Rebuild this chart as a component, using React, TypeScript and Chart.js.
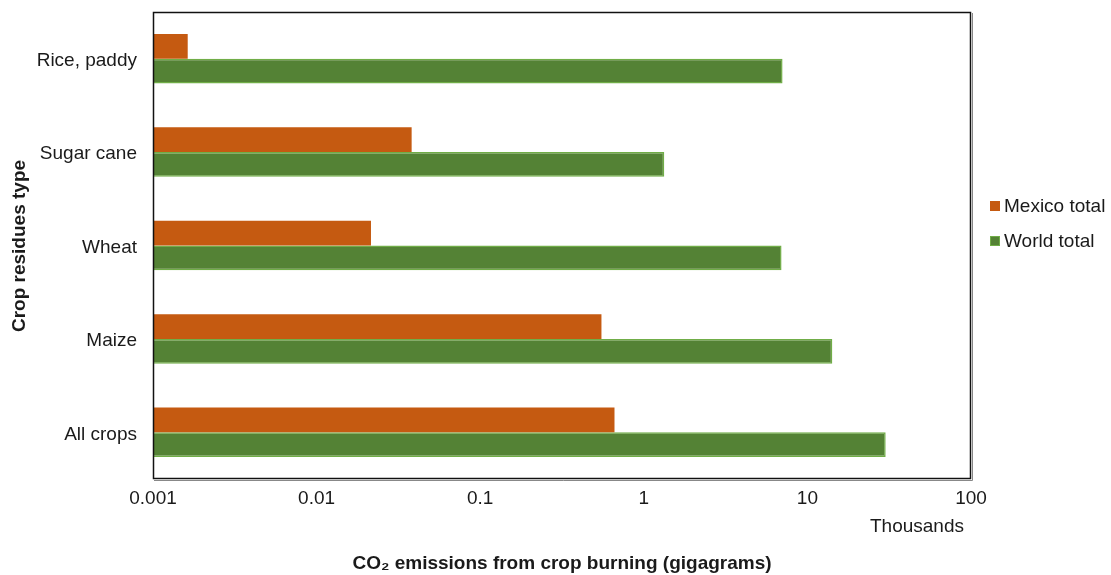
import React, { useEffect, useRef } from "react";
import { Chart, registerables } from "chart.js";

Chart.register(...registerables);

const categories = ["Rice, paddy", "Sugar cane", "Wheat", "Maize", "All crops"];
const mexicoTotal = [0.00163, 0.0381, 0.0215, 0.551, 0.662];
const worldTotal = [7.05, 1.334, 6.95, 14.2, 30.1];
const xTicks = [0.001, 0.01, 0.1, 1, 10, 100];
const xTickLabels = ["0.001", "0.01", "0.1", "1", "10", "100"];
const seriesNames = ["Mexico total", "World total"];

const FONT = "'Liberation Sans', Arial, sans-serif";
const TEXT = "#1a1a1a";
const FS = 19;

const decorPlugin = {
  id: "decor",
  afterDraw(chart: any) {
    const { ctx, chartArea } = chart;
    const { left, right, top, bottom } = chartArea;
    ctx.save();
    // plot frame
    ctx.strokeStyle = "#111";
    ctx.lineWidth = 1.5;
    ctx.strokeRect(left + 0.5, top + 0.5, right - left - 1, bottom - top - 1);
    ctx.strokeStyle = "#888";
    ctx.lineWidth = 1;
    ctx.beginPath();
    ctx.moveTo(right + 1.5, top + 1);
    ctx.lineTo(right + 1.5, bottom + 1.5);
    ctx.lineTo(left + 1, bottom + 1.5);
    ctx.stroke();

    // legend
    const colors = ["#C55A11", "#548235"];
    const borders = ["#C55A11", "#70AD47"];
    const ys = [206, 241];
    ctx.font = `${FS}px ${FONT}`;
    ctx.textBaseline = "middle";
    ctx.textAlign = "left";
    for (let i = 0; i < 2; i++) {
      ctx.fillStyle = colors[i];
      ctx.fillRect(990, ys[i] - 5, 10, 10);
      ctx.strokeStyle = borders[i];
      ctx.lineWidth = 1;
      ctx.strokeRect(990.5, ys[i] - 4.5, 9, 9);
      ctx.fillStyle = TEXT;
      ctx.fillText(seriesNames[i], 1004, ys[i] + 1);
    }

    // "Thousands"
    ctx.textAlign = "center";
    ctx.fillText("Thousands", 917, 527);

    // x title
    ctx.font = `bold ${FS}px ${FONT}`;
    ctx.fillText("CO\u2082 emissions from crop burning (gigagrams)", 562, 564);

    // y title
    ctx.translate(20, 246);
    ctx.rotate(-Math.PI / 2);
    ctx.fillText("Crop residues type", 0, 0);
    ctx.restore();
  },
};

export default function App() {
  const ref = useRef<HTMLCanvasElement>(null);
  useEffect(() => {
    document.body.style.margin = "0";
    const chart = new Chart(ref.current as HTMLCanvasElement, {
      type: "bar",
      data: {
        labels: categories,
        datasets: [
          {
            label: seriesNames[0],
            data: mexicoTotal,
            backgroundColor: "#C55A11",
            borderColor: "#C55A11",
            borderWidth: 0,
            categoryPercentage: 0.53,
            barPercentage: 1.0,
          },
          {
            label: seriesNames[1],
            data: worldTotal,
            backgroundColor: "#548235",
            borderColor: "#70AD47",
            borderWidth: 1.5,
            categoryPercentage: 0.53,
            barPercentage: 1.0,
          },
        ],
      },
      options: {
        indexAxis: "y",
        animation: false,
        responsive: false,
        layout: { padding: { top: 12, right: 140, left: 0, bottom: 0 } },
        plugins: { legend: { display: false }, tooltip: { enabled: false } },
        scales: {
          x: {
            type: "logarithmic",
            min: 0.001,
            max: 100,
            grid: { display: false },
            border: { display: false },
            afterBuildTicks: (scale: any) => {
              scale.ticks = xTicks.map((v) => ({ value: v }));
            },
            afterFit: (scale: any) => {
              scale.height = 96;
              scale.paddingLeft = 0;
              scale.paddingRight = 0;
            },
            ticks: {
              autoSkip: false,
              maxRotation: 0,
              padding: 0,
              color: TEXT,
              font: { family: FONT, size: FS },
              callback: (v: any) => {
                const i = xTicks.findIndex((t) => Math.abs(t - v) < t * 1e-6);
                return i >= 0 ? xTickLabels[i] : "";
              },
            },
          },
          y: {
            grid: { display: false },
            border: { display: false },
            afterFit: (scale: any) => {
              scale.width = 153;
              scale.paddingTop = 0;
              scale.paddingBottom = 0;
            },
            ticks: {
              padding: 8,
              labelOffset: 2,
              color: TEXT,
              font: { family: FONT, size: FS },
            },
          },
        },
      },
      plugins: [decorPlugin],
    } as any);
    return () => chart.destroy();
  }, []);
  return (
    <div style={{ position: "absolute", left: 0, top: 0, width: 1111, height: 575 }}>
      <canvas ref={ref} width={1111} height={575} style={{ width: 1111, height: 575 }} />
    </div>
  );
}
